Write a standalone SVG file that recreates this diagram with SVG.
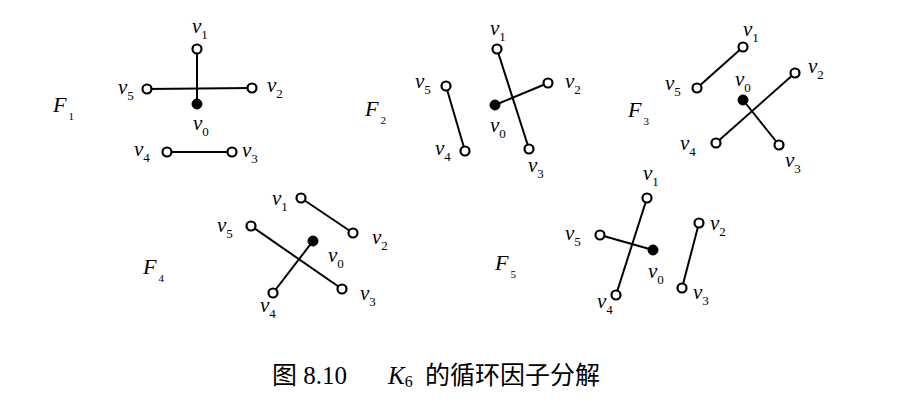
<svg xmlns="http://www.w3.org/2000/svg" width="900" height="416" viewBox="0 0 900 416">
<style>
.n{fill:#fff;stroke:#000;stroke-width:2.2}
.f{fill:#000;stroke:#000;stroke-width:1}
.e{stroke:#000;stroke-width:2;fill:none}
.lb{font-family:"Liberation Serif",serif;font-style:italic;font-size:21px;fill:#000}
.sb{font-style:normal;font-size:13px}
.fl{font-family:"Liberation Serif",serif;font-style:italic;font-size:22px;fill:#000}
.fs{font-style:normal;font-size:11px}
.cap{font-family:"Liberation Serif","Noto Sans CJK SC",serif;font-size:25px;fill:#000}
</style>
<rect width="900" height="416" fill="#fff"/>
<g id="connectors">
<line class="e" x1="197" y1="49" x2="197" y2="104"/>
<line class="e" x1="147" y1="89" x2="252" y2="88"/>
<line class="e" x1="167" y1="152" x2="232" y2="152"/>
<line class="e" x1="497" y1="49" x2="529" y2="149"/>
<line class="e" x1="495" y1="105" x2="548" y2="83"/>
<line class="e" x1="446" y1="86" x2="465" y2="151"/>
<line class="e" x1="743" y1="47" x2="697" y2="88"/>
<line class="e" x1="795" y1="73" x2="716" y2="143"/>
<line class="e" x1="743" y1="100" x2="779" y2="145"/>
<line class="e" x1="301" y1="198" x2="353" y2="233"/>
<line class="e" x1="251" y1="226" x2="342" y2="289"/>
<line class="e" x1="313" y1="241" x2="273" y2="293"/>
<line class="e" x1="647" y1="198" x2="616" y2="295"/>
<line class="e" x1="600" y1="235" x2="653" y2="250"/>
<line class="e" x1="699" y1="223" x2="682" y2="288"/>
</g>
<g id="F1">
<text class="fl" x="53" y="112">F<tspan class="fs" dx="2" dy="8">1</tspan></text>
<g id="F1-v1"><circle class="n" cx="197" cy="49" r="4.5"/><text class="lb" x="192" y="33">v<tspan class="sb" dy="6">1</tspan></text></g>
<g id="F1-v2"><circle class="n" cx="252" cy="88" r="4.5"/><text class="lb" x="267" y="92">v<tspan class="sb" dy="6">2</tspan></text></g>
<g id="F1-v3"><circle class="n" cx="232" cy="152" r="4.5"/><text class="lb" x="242" y="157">v<tspan class="sb" dy="6">3</tspan></text></g>
<g id="F1-v4"><circle class="n" cx="167" cy="152" r="4.5"/><text class="lb" x="134" y="156">v<tspan class="sb" dy="6">4</tspan></text></g>
<g id="F1-v5"><circle class="n" cx="147" cy="89" r="4.5"/><text class="lb" x="118" y="94">v<tspan class="sb" dy="6">5</tspan></text></g>
<g id="F1-v0"><circle class="f" cx="197" cy="104" r="5"/><text class="lb" x="193" y="130">v<tspan class="sb" dy="6">0</tspan></text></g>
</g>
<g id="F2">
<text class="fl" x="365" y="116">F<tspan class="fs" dx="2" dy="8">2</tspan></text>
<g id="F2-v1"><circle class="n" cx="497" cy="49" r="4.5"/><text class="lb" x="490" y="35">v<tspan class="sb" dy="6">1</tspan></text></g>
<g id="F2-v2"><circle class="n" cx="548" cy="83" r="4.5"/><text class="lb" x="565" y="88">v<tspan class="sb" dy="6">2</tspan></text></g>
<g id="F2-v3"><circle class="n" cx="529" cy="149" r="4.5"/><text class="lb" x="528" y="172">v<tspan class="sb" dy="6">3</tspan></text></g>
<g id="F2-v4"><circle class="n" cx="465" cy="151" r="4.5"/><text class="lb" x="435" y="155">v<tspan class="sb" dy="6">4</tspan></text></g>
<g id="F2-v5"><circle class="n" cx="446" cy="86" r="4.5"/><text class="lb" x="415" y="88">v<tspan class="sb" dy="6">5</tspan></text></g>
<g id="F2-v0"><circle class="f" cx="495" cy="105" r="5"/><text class="lb" x="490" y="132">v<tspan class="sb" dy="6">0</tspan></text></g>
</g>
<g id="F3">
<text class="fl" x="628" y="117">F<tspan class="fs" dx="2" dy="8">3</tspan></text>
<g id="F3-v1"><circle class="n" cx="743" cy="47" r="4.5"/><text class="lb" x="743" y="36">v<tspan class="sb" dy="6">1</tspan></text></g>
<g id="F3-v2"><circle class="n" cx="795" cy="73" r="4.5"/><text class="lb" x="808" y="73">v<tspan class="sb" dy="6">2</tspan></text></g>
<g id="F3-v3"><circle class="n" cx="779" cy="145" r="4.5"/><text class="lb" x="785" y="167">v<tspan class="sb" dy="6">3</tspan></text></g>
<g id="F3-v4"><circle class="n" cx="716" cy="143" r="4.5"/><text class="lb" x="680" y="150">v<tspan class="sb" dy="6">4</tspan></text></g>
<g id="F3-v5"><circle class="n" cx="697" cy="88" r="4.5"/><text class="lb" x="665" y="90">v<tspan class="sb" dy="6">5</tspan></text></g>
<g id="F3-v0"><circle class="f" cx="743" cy="100" r="5"/><text class="lb" x="735" y="86">v<tspan class="sb" dy="6">0</tspan></text></g>
</g>
<g id="F4">
<text class="fl" x="143" y="274">F<tspan class="fs" dx="2" dy="8">4</tspan></text>
<g id="F4-v1"><circle class="n" cx="301" cy="198" r="4.5"/><text class="lb" x="272" y="205">v<tspan class="sb" dy="6">1</tspan></text></g>
<g id="F4-v2"><circle class="n" cx="353" cy="233" r="4.5"/><text class="lb" x="372" y="244">v<tspan class="sb" dy="6">2</tspan></text></g>
<g id="F4-v3"><circle class="n" cx="342" cy="289" r="4.5"/><text class="lb" x="360" y="300">v<tspan class="sb" dy="6">3</tspan></text></g>
<g id="F4-v4"><circle class="n" cx="273" cy="293" r="4.5"/><text class="lb" x="260" y="312">v<tspan class="sb" dy="6">4</tspan></text></g>
<g id="F4-v5"><circle class="n" cx="251" cy="226" r="4.5"/><text class="lb" x="217" y="232">v<tspan class="sb" dy="6">5</tspan></text></g>
<g id="F4-v0"><circle class="f" cx="313" cy="241" r="5"/><text class="lb" x="328" y="262">v<tspan class="sb" dy="6">0</tspan></text></g>
</g>
<g id="F5">
<text class="fl" x="495" y="270">F<tspan class="fs" dx="2" dy="8">5</tspan></text>
<g id="F5-v1"><circle class="n" cx="647" cy="198" r="4.5"/><text class="lb" x="643" y="180">v<tspan class="sb" dy="6">1</tspan></text></g>
<g id="F5-v2"><circle class="n" cx="699" cy="223" r="4.5"/><text class="lb" x="710" y="230">v<tspan class="sb" dy="6">2</tspan></text></g>
<g id="F5-v3"><circle class="n" cx="682" cy="288" r="4.5"/><text class="lb" x="693" y="299">v<tspan class="sb" dy="6">3</tspan></text></g>
<g id="F5-v4"><circle class="n" cx="616" cy="295" r="4.5"/><text class="lb" x="597" y="308">v<tspan class="sb" dy="6">4</tspan></text></g>
<g id="F5-v5"><circle class="n" cx="600" cy="235" r="4.5"/><text class="lb" x="565" y="240">v<tspan class="sb" dy="6">5</tspan></text></g>
<g id="F5-v0"><circle class="f" cx="653" cy="250" r="5"/><text class="lb" x="648" y="278">v<tspan class="sb" dy="6">0</tspan></text></g>
</g>
<g id="caption">
<text class="cap" x="272" y="384">图 8.10</text>
<text class="cap" x="388" y="384"><tspan font-style="italic">K</tspan><tspan font-size="16px" dy="3">6</tspan></text>
<text class="cap" x="425" y="384" font-size="26px">的循环因子分解</text>
</g>
</svg>
